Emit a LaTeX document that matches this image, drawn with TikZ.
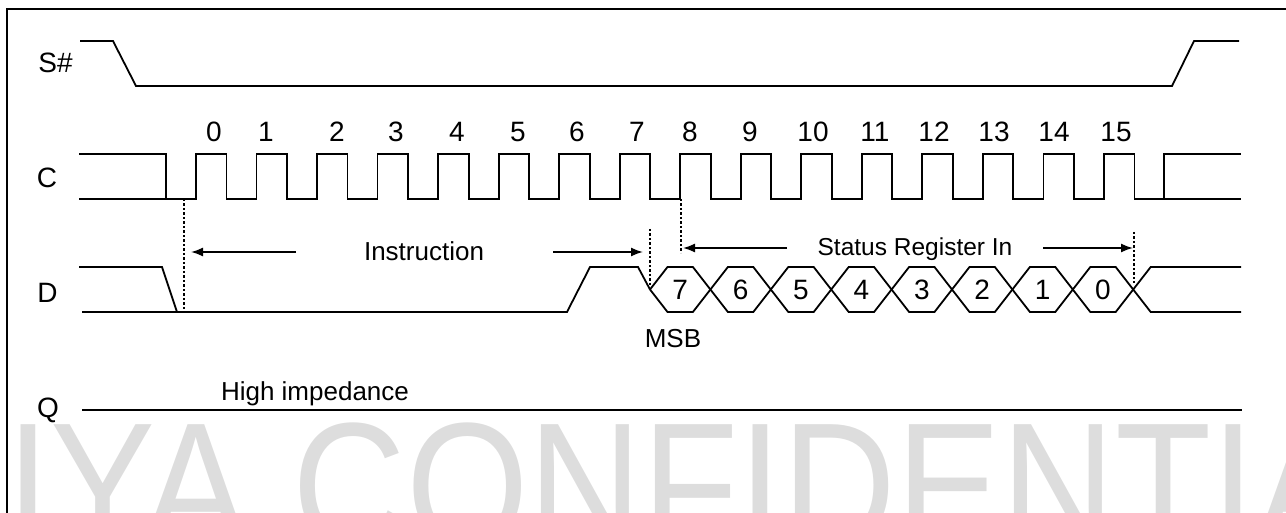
\documentclass[tikz,border=0pt]{standalone}
\usepackage{fontspec}
\setmainfont{Liberation Sans}
\usetikzlibrary{arrows.meta}
\definecolor{wmgray}{RGB}{221,221,221}
\begin{document}
\begin{tikzpicture}[x=1pt,y=-1pt,
  sig/.style={line width=1.8pt, line join=miter},
  guide/.style={line width=1.4pt, dash pattern=on 2.5pt off 2pt},
  arr/.style={line width=1.6pt, -{Latex[length=12pt,width=9pt]}},
  lbl/.style={anchor=base, inner sep=0pt, font=\fontsize{28}{30}\selectfont},
  num/.style={anchor=base, inner sep=0pt, font=\fontsize{28}{30}\selectfont},
  txt/.style={anchor=base, inner sep=0pt, font=\fontsize{26}{28}\selectfont}]
\useasboundingbox (0,0) rectangle (1286,513);
\clip (0,0) rectangle (1286,513);
% watermark
\node[anchor=base west, inner sep=0pt, text=wmgray, font=\fontsize{180}{180}\selectfont] (wm) at (6.5,548) {\scalebox{0.875}[1]{IYA CONFIDENTIA}};
% frame
\draw[sig] (7,520) -- (7,9) -- (1290,9);
% S#
\node[lbl] (ls) at (55.5,73) {S\#};
\draw[sig] (80,41) -- (113,41) -- (136,86) -- (1172,86) -- (1194,41) -- (1239,41);
% C
\node[lbl] (lc) at (47,187.5) {C};
\draw[sig] (79,154) -- (166,154) -- (166,199);
\draw[sig] (79,199) foreach \k in {0,...,15} { -- ({196+60.53*\k},199) -- ({196+60.53*\k},154) -- ({226.5+60.53*\k},154) -- ({226.5+60.53*\k},199) } -- (1164,199) -- (1164,154) -- (1241,154);
\draw[sig] (1164,199) -- (1241,199);
\foreach \n/\x in {0/214,1/266,2/337,3/396,4/457,5/518,6/577,7/637,8/690,9/750,10/813,11/875,12/934,13/994,14/1054,15/1116}
  \node[num] (n\n) at (\x,141.5) {\n};
% D
\node[lbl] (ld) at (47.5,302) {D};
\draw[sig] (79,267) -- (162,267) -- (177,312);
\draw[sig] (82,312) -- (567,312) -- (590,267) -- (638,267) -- (650,289.5);
\foreach \k in {0,...,7} {
  \draw[sig] ({650+60.4*\k},289.5) -- ({667.5+60.4*\k},267) -- ({692.9+60.4*\k},267) -- ({710.4+60.4*\k},289.5);
  \draw[sig] ({650+60.4*\k},289.5) -- ({667.5+60.4*\k},312) -- ({692.9+60.4*\k},312) -- ({710.4+60.4*\k},289.5);
}
\draw[sig] (1133.2,289.5) -- (1150.7,267) -- (1241,267);
\draw[sig] (1133.2,289.5) -- (1150.7,312) -- (1241,312);
\foreach \d [count=\i from 0] in {7,6,5,4,3,2,1,0}
  \node[num] (b\d) at ({680.2+60.4*\i},299) {\d};
\node[txt] (msb) at (673,347) {MSB};
% guides
\coordinate (g1t) at (184,199); \coordinate (g1b) at (184,312);
\coordinate (g2t) at (650,229); \coordinate (g2b) at (650,285);
\coordinate (g3t) at (681,199); \coordinate (g3b) at (681,253);
\coordinate (g4t) at (1134,232); \coordinate (g4b) at (1134,283);
\draw[guide] (g1t) -- (g1b);
\draw[guide] (g2t) -- (g2b);
\draw[guide] (g3t) -- (g3b);
\draw[guide] (g4t) -- (g4b);
% arrows
\coordinate (a1s) at (296,252); \coordinate (a1e) at (191,252);
\coordinate (a2s) at (553,252); \coordinate (a2e) at (643,252);
\coordinate (a3s) at (787,248); \coordinate (a3e) at (683,248);
\coordinate (a4s) at (1043,248); \coordinate (a4e) at (1133,248);
\draw[arr] (a1s) -- (a1e);
\draw[arr] (a2s) -- (a2e);
\draw[arr] (a3s) -- (a3e);
\draw[arr] (a4s) -- (a4e);
\node[txt] (tins) at (424,261) {Instruction};
\node[txt, font=\fontsize{24.5}{26}\selectfont] (tsr) at (915,256) {Status Register In};
% Q
\node[lbl] (lq) at (48,417) {Q};
\draw[sig] (82,410) -- (1242,410);
\node[txt] (thi) at (315,400) {High impedance};
\end{tikzpicture}
\end{document}
